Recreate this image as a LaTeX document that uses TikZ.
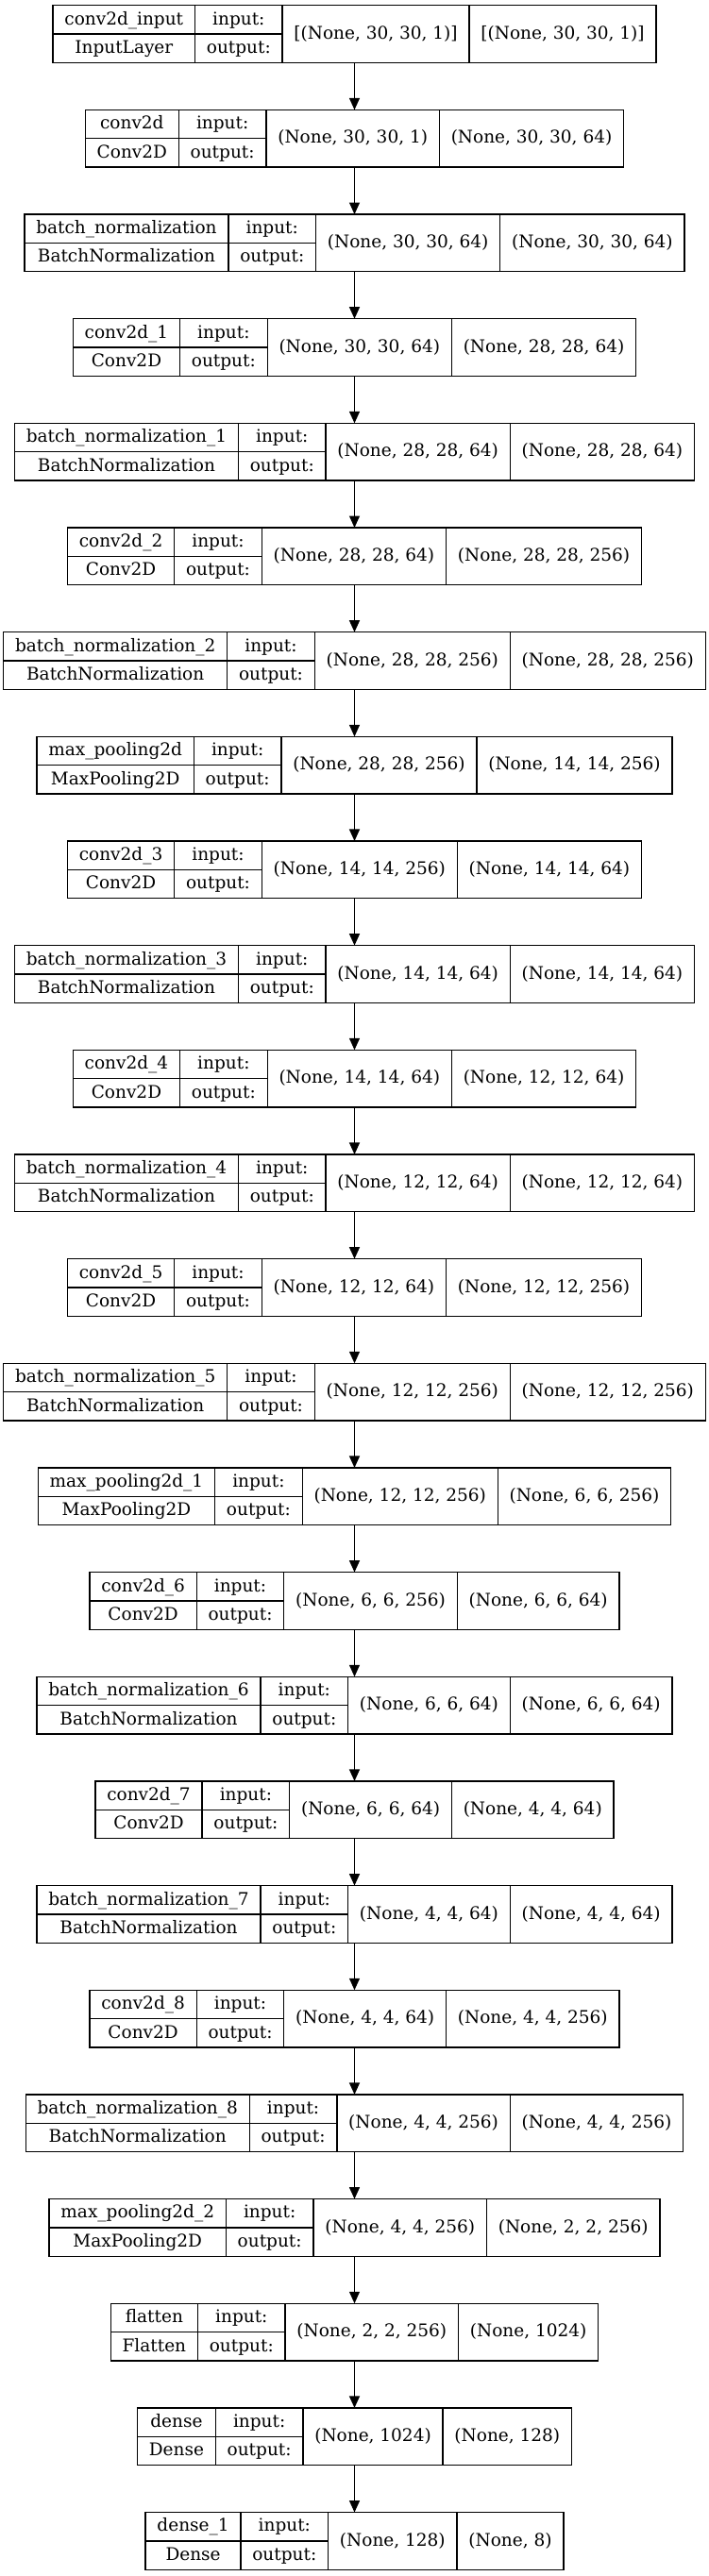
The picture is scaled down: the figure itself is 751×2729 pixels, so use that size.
\documentclass[tikz,border=0pt]{standalone}
\usepackage{fontspec}
\setmainfont{DejaVu Serif}
\usetikzlibrary{arrows.meta}
\newlength\lyWa \newlength\lyWb \newlength\lyWc \newlength\lyWd \newlength\lyWt
\newcommand\lfont{\fontsize{18.5}{22}\selectfont}
\newcommand\lypad{24.7}
\tikzset{
  box/.style={draw=black, line width=1.3pt, inner sep=0pt, outer sep=0pt, minimum height=60.7pt},
  cell/.style={draw=black, line width=1.3pt},
  lbl/.style={anchor=base, inner sep=0pt, font=\lfont, text=black},
  arr/.style={draw=black, line width=1.3pt, -{Triangle[length=12.5pt,width=11pt]}}
}
\newcommand\lyr[6]{%
  \pgfinterruptpicture
  \settowidth\lyWa{\lfont #3}\settowidth\lyWt{\lfont #4}%
  \ifdim\lyWt>\lyWa \lyWa=\lyWt\fi
  \settowidth\lyWb{\lfont output:}%
  \settowidth\lyWc{\lfont #5}\settowidth\lyWd{\lfont #6}%
  \global\lyWa=\lyWa \global\lyWb=\lyWb \global\lyWc=\lyWc \global\lyWd=\lyWd
  \endpgfinterruptpicture
  \pgfmathsetmacro\lyA{\lyWa+\lypad}%
  \pgfmathsetmacro\lyB{\lyWb+\lypad}%
  \pgfmathsetmacro\lyC{\lyWc+\lypad}%
  \pgfmathsetmacro\lyD{\lyWd+\lypad}%
  \pgfmathsetmacro\lyTot{\lyA+\lyB+\lyC+\lyD}%
  \pgfmathsetmacro\lyX{375.5-\lyTot/2}%
  \pgfmathsetmacro\lyDa{\lyX+\lyA}%
  \pgfmathsetmacro\lyDb{\lyDa+\lyB}%
  \pgfmathsetmacro\lyDc{\lyDb+\lyC}%
  \pgfmathsetmacro\lyXn{\lyX+\lyA/2}%
  \pgfmathsetmacro\lyXio{\lyDa+\lyB/2}%
  \pgfmathsetmacro\lyXi{\lyDb+\lyC/2}%
  \pgfmathsetmacro\lyXo{\lyDc+\lyD/2}%
  \pgfmathsetmacro\lyTop{-(5.7+#2*110.66)}%
  \pgfmathsetmacro\lyYm{\lyTop-30.35}%
  \pgfmathsetmacro\lyYb{\lyTop-60.7}%
  \pgfmathsetmacro\lyYr{\lyTop-20.4}%
  \pgfmathsetmacro\lyYs{\lyTop-50.9}%
  \pgfmathsetmacro\lyYc{\lyTop-35.6}%
  \node[box, minimum width=\lyTot pt, anchor=north west] (#1) at (\lyX pt,\lyTop pt) {};
  \draw[cell] (\lyDa pt,\lyTop pt) -- (\lyDa pt,\lyYb pt);
  \draw[cell] (\lyDb pt,\lyTop pt) -- (\lyDb pt,\lyYb pt);
  \draw[cell] (\lyDc pt,\lyTop pt) -- (\lyDc pt,\lyYb pt);
  \draw[cell] (\lyX pt,\lyYm pt) -- (\lyDb pt,\lyYm pt);
  \node[lbl] (#1-name) at (\lyXn pt,\lyYr pt) {#3};
  \node[lbl] (#1-type) at (\lyXn pt,\lyYs pt) {#4};
  \node[lbl] (#1-inl) at (\lyXio pt,\lyYr pt) {input:};
  \node[lbl] (#1-outl) at (\lyXio pt,\lyYs pt) {output:};
  \node[lbl] (#1-ins) at (\lyXi pt,\lyYc pt) {#5};
  \node[lbl] (#1-outs) at (\lyXo pt,\lyYc pt) {#6};
}
\begin{document}
\begin{tikzpicture}[x=1pt,y=1pt]
\useasboundingbox[fill=white] (0,0) rectangle (751,-2729);
\lyr{l0}{0}{conv2d\_input}{InputLayer}{[(None, 30, 30, 1)]}{[(None, 30, 30, 1)]}
\lyr{l1}{1}{conv2d}{Conv2D}{(None, 30, 30, 1)}{(None, 30, 30, 64)}
\lyr{l2}{2}{batch\_normalization}{BatchNormalization}{(None, 30, 30, 64)}{(None, 30, 30, 64)}
\lyr{l3}{3}{conv2d\_1}{Conv2D}{(None, 30, 30, 64)}{(None, 28, 28, 64)}
\lyr{l4}{4}{batch\_normalization\_1}{BatchNormalization}{(None, 28, 28, 64)}{(None, 28, 28, 64)}
\lyr{l5}{5}{conv2d\_2}{Conv2D}{(None, 28, 28, 64)}{(None, 28, 28, 256)}
\lyr{l6}{6}{batch\_normalization\_2}{BatchNormalization}{(None, 28, 28, 256)}{(None, 28, 28, 256)}
\lyr{l7}{7}{max\_pooling2d}{MaxPooling2D}{(None, 28, 28, 256)}{(None, 14, 14, 256)}
\lyr{l8}{8}{conv2d\_3}{Conv2D}{(None, 14, 14, 256)}{(None, 14, 14, 64)}
\lyr{l9}{9}{batch\_normalization\_3}{BatchNormalization}{(None, 14, 14, 64)}{(None, 14, 14, 64)}
\lyr{l10}{10}{conv2d\_4}{Conv2D}{(None, 14, 14, 64)}{(None, 12, 12, 64)}
\lyr{l11}{11}{batch\_normalization\_4}{BatchNormalization}{(None, 12, 12, 64)}{(None, 12, 12, 64)}
\lyr{l12}{12}{conv2d\_5}{Conv2D}{(None, 12, 12, 64)}{(None, 12, 12, 256)}
\lyr{l13}{13}{batch\_normalization\_5}{BatchNormalization}{(None, 12, 12, 256)}{(None, 12, 12, 256)}
\lyr{l14}{14}{max\_pooling2d\_1}{MaxPooling2D}{(None, 12, 12, 256)}{(None, 6, 6, 256)}
\lyr{l15}{15}{conv2d\_6}{Conv2D}{(None, 6, 6, 256)}{(None, 6, 6, 64)}
\lyr{l16}{16}{batch\_normalization\_6}{BatchNormalization}{(None, 6, 6, 64)}{(None, 6, 6, 64)}
\lyr{l17}{17}{conv2d\_7}{Conv2D}{(None, 6, 6, 64)}{(None, 4, 4, 64)}
\lyr{l18}{18}{batch\_normalization\_7}{BatchNormalization}{(None, 4, 4, 64)}{(None, 4, 4, 64)}
\lyr{l19}{19}{conv2d\_8}{Conv2D}{(None, 4, 4, 64)}{(None, 4, 4, 256)}
\lyr{l20}{20}{batch\_normalization\_8}{BatchNormalization}{(None, 4, 4, 256)}{(None, 4, 4, 256)}
\lyr{l21}{21}{max\_pooling2d\_2}{MaxPooling2D}{(None, 4, 4, 256)}{(None, 2, 2, 256)}
\lyr{l22}{22}{flatten}{Flatten}{(None, 2, 2, 256)}{(None, 1024)}
\lyr{l23}{23}{dense}{Dense}{(None, 1024)}{(None, 128)}
\lyr{l24}{24}{dense\_1}{Dense}{(None, 128)}{(None, 8)}
\foreach \i [evaluate=\i as \j using int(\i+1)] in {0,...,23}
  \draw[arr] (l\i.south) -- (l\j.north);
\end{tikzpicture}
\end{document}
